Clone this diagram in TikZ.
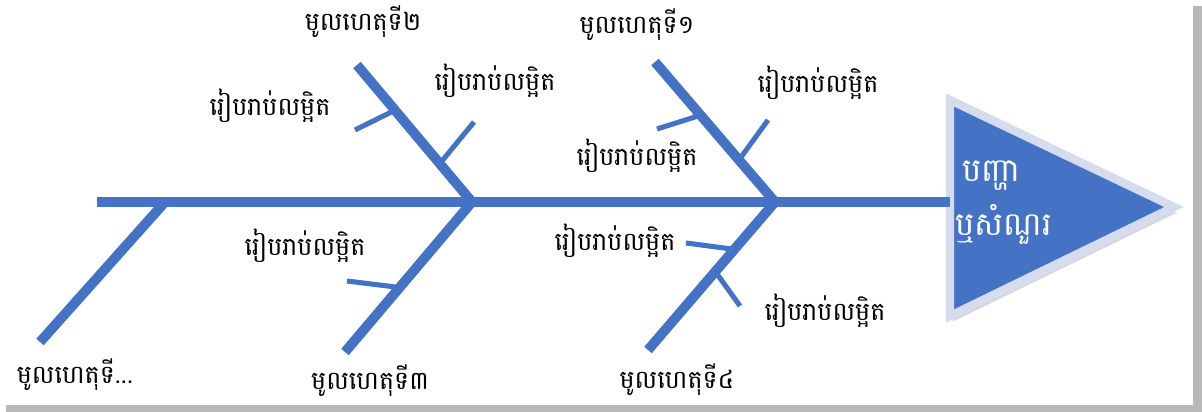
\documentclass[tikz,border=0pt]{standalone}
\usepackage{fontspec}
\newfontfamily\khmerfont[Script=Khmer]{Battambang}
\usetikzlibrary{calc, shadows}

\definecolor{bonecol}{HTML}{4472C4}
\definecolor{headrim}{HTML}{D5DCEE}

\begin{document}
\begin{tikzpicture}[x=0.025cm, y=-0.025cm,
    bone/.style={line width=7pt, draw=bonecol},
    twig/.style={line width=3.6pt, draw=bonecol},
    lbl/.style={font=\khmerfont\fontsize{18}{20}\selectfont, inner sep=0pt},
    headlbl/.style={font=\khmerfont\fontsize{23}{25}\selectfont, text=white, inner sep=0pt, anchor=west}]

    \useasboundingbox (0,0) rectangle (1202,412);
    \fill[black!28] (6,6) rectangle (1202,412);
    \fill[white] (0,0) rectangle (1193,405);

    \coordinate (tail) at (97,202);
    \coordinate (j0) at (165,202);
    \coordinate (j1) at (472,202);
    \coordinate (j2) at (775,202);
    \coordinate (neck) at (950,202);

    \coordinate (top2) at (357,65);
    \coordinate (top1) at (655,62);
    \coordinate (bot5) at (40,342);
    \coordinate (bot3) at (345,352);
    \coordinate (bot4) at (648,350);

    \filldraw[fill=bonecol, draw=headrim, line width=6pt, line join=miter,
      drop shadow={shadow xshift=2pt, shadow yshift=-4pt, opacity=.3}]
      (950,100) coordinate (h1) -- (1174,207) coordinate (h2) -- (950,316) coordinate (h3) -- cycle;

    \draw[bone] (tail) -- (neck);
    \draw[bone] (top2) -- (j1) -- (bot3);
    \draw[bone] (top1) -- (j2) -- (bot4);
    \draw[bone] (j0) -- (bot5);

    \draw[twig] ($(top2)!0.33!(j1)$) -- (355,130) coordinate (t2a);
    \draw[twig] ($(top2)!0.72!(j1)$) -- (474,122) coordinate (t2b);
    \draw[twig] ($(top1)!0.38!(j2)$) -- (657,129) coordinate (t1a);
    \draw[twig] ($(top1)!0.70!(j2)$) -- (768,120) coordinate (t1b);
    \draw[twig] ($(j1)!0.57!(bot3)$) -- (347,281) coordinate (t3a);
    \draw[twig] ($(j2)!0.32!(bot4)$) -- (686,243) coordinate (t4a);
    \draw[twig] ($(j2)!0.47!(bot4)$) -- (740,306) coordinate (t4b);

    \node[lbl] (cause2) at (363,22) {មូលហេតុទី២};
    \node[lbl] (cause1) at (637,25) {មូលហេតុទី១};
    \node[lbl] (cause3) at (370,381) {មូលហេតុទី៣};
    \node[lbl] (cause4) at (677,380) {មូលហេតុទី៤};
    \node[lbl] (cause5) at (75,375) {មូលហេតុទី...};

    \node[lbl] (d2a) at (270,106) {រៀបរាប់លម្អិត};
    \node[lbl] (d2b) at (495,81) {រៀបរាប់លម្អិត};
    \node[lbl] (d1a) at (637,156) {រៀបរាប់លម្អិត};
    \node[lbl] (d1b) at (818,83) {រៀបរាប់លម្អិត};
    \node[lbl] (d3a) at (305,246) {រៀបរាប់លម្អិត};
    \node[lbl] (d4a) at (615,241) {រៀបរាប់លម្អិត};
    \node[lbl] (d4b) at (825,311) {រៀបរាប់លម្អិត};

    \node[headlbl] (prob1) at (962,176) {បញ្ហា};
    \node[headlbl] (prob2) at (955,224) {ឬសំណួរ};
\end{tikzpicture}
\end{document}
